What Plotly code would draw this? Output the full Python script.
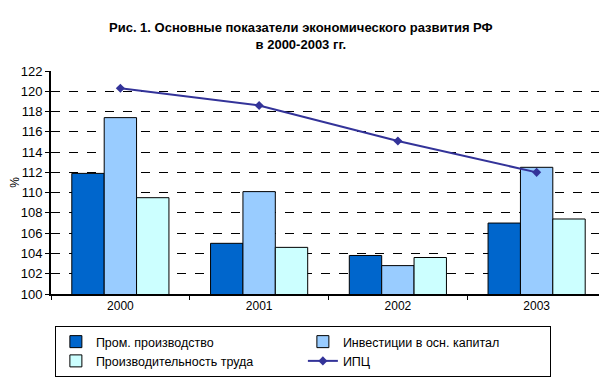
import plotly.graph_objects as go

years = ["2000", "2001", "2002", "2003"]
prom = [111.9, 105.0, 103.8, 107.0]
invest = [117.4, 110.1, 102.8, 112.5]
trud = [109.5, 104.6, 103.6, 107.4]
ipc = [120.3, 118.6, 115.1, 112.0]

names = ["Пром. производство", "Инвестиции в осн. капитал",
         "Производительность труда", "ИПЦ"]
title_text = "<b>Рис. 1. Основные показатели экономического развития РФ<br>в 2000-2003 гг.</b>"

fig = go.Figure()
for vals, name, col in [(prom, names[0], "#0066CC"),
                        (invest, names[1], "#99CCFF"),
                        (trud, names[2], "#CCFFFF")]:
    fig.add_trace(go.Bar(x=years, y=vals, name=name,
                         marker=dict(color=col, line=dict(color="black", width=1))))
fig.add_trace(go.Scatter(x=years, y=ipc, name=names[3], mode="lines+markers",
                         line=dict(color="#333399", width=2),
                         marker=dict(symbol="diamond", size=7, color="#333399")))

fig.add_annotation(text=title_text, xref="paper", yref="paper", x=0.45, y=1,
                   xanchor="center", yanchor="bottom", yshift=17, showarrow=False,
                   align="center",
                   font=dict(size=13, family="Liberation Sans, Arial, sans-serif", color="black"))

fig.update_layout(
    width=599, height=374,
    margin=dict(l=43, r=1, t=63, b=88, autoexpand=False),
    paper_bgcolor="white", plot_bgcolor="white",
    barmode="group", bargap=0.3, bargroupgap=0,
    font=dict(family="Liberation Sans, Arial, sans-serif", size=12, color="black"),
    showlegend=True,
    legend=dict(orientation="h", x=0.007, xanchor="left", y=-0.1435, yanchor="top",
                entrywidth=202, entrywidthmode="pixels",
                bordercolor="black", borderwidth=1,
                font=dict(size=12.5), traceorder="normal", tracegroupgap=0),
)
fig.update_yaxes(range=[100, 122], dtick=2, showline=True, linecolor="black", linewidth=2,
                 ticks="outside", ticklen=4, tickcolor="black",
                 showgrid=True, gridcolor="black", griddash="dash", gridwidth=1,
                 tickfont=dict(size=13),
                 title=dict(text="%", font=dict(size=12), standoff=13), zeroline=False)
fig.update_xaxes(showline=True, linecolor="black", linewidth=2, ticks="outside",
                 tickson="boundaries", ticklen=4, tickcolor="black",
                 tickfont=dict(size=12))

fig.write_html("out.html")
